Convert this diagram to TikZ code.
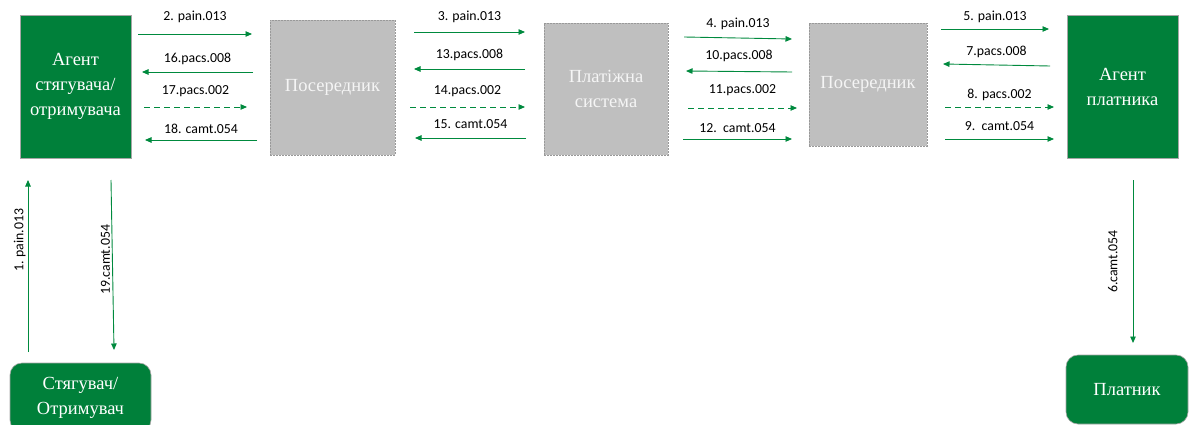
\documentclass[tikz,border=0pt]{standalone}
\usepackage{fontspec}
\setmainfont{Liberation Serif}
\newfontfamily\lblfont{Carlito}
\newfontfamily\boxfont{Liberation Serif}
\usetikzlibrary{arrows.meta}
\definecolor{grn}{RGB}{0,128,58}
\definecolor{arrg}{RGB}{0,138,62}
\definecolor{gbox}{RGB}{191,191,191}
\definecolor{gtext}{RGB}{245,245,245}
\begin{document}
\begin{tikzpicture}[x=1pt,y=-1pt,
  greenbox/.style={draw=gray!70, fill=grn, text=white, line width=0.6pt,
    font=\boxfont\fontsize{18.5}{25}\selectfont, align=center, inner sep=0pt},
  roundbox/.style={greenbox, rounded corners=12pt},
  greybox/.style={draw=gray!80, fill=gbox, text=gtext, line width=0.6pt,
    dash pattern=on 2pt off 1pt, font=\boxfont\fontsize{18.5}{25}\selectfont,
    align=center, inner sep=0pt},
  arr/.style={draw=arrg, line width=0.9pt, -{Triangle[length=6.5pt,width=5.5pt]}},
  dsh/.style={arr, dash pattern=on 6pt off 4pt},
  lbl/.style={font=\lblfont\fontsize{13.8}{16}\selectfont, text=black}]
\clip (0,0) rectangle (1190,425);
\fill[white] (0,0) rectangle (1190,425);

% boxes
\node[greenbox, minimum width=111pt, minimum height=143pt] (ag1) at (75.5,86.5) {Агент\\стягувача/\\отримувача};
\node[greybox, minimum width=125pt, minimum height=135pt] (p1) at (332.5,87.5) {Посередник};
\node[greybox, minimum width=124pt, minimum height=132pt] (ps) at (606,89) {Платіжна\\система};
\node[greybox, minimum width=118pt, minimum height=123pt] (p2) at (868,84.5) {Посередник};
\node[greenbox, minimum width=111pt, minimum height=143pt] (ag2) at (1122.5,86.5) {Агент\\платника};
\node[roundbox, minimum width=141pt, minimum height=69pt] (st) at (80.5,397.5) {Стягувач/\\Отримувач};
\node[roundbox, minimum width=122pt, minimum height=69pt] (pl) at (1127,389.5) {Платник};

% horizontal messages
\foreach \id/\st/\xa/\ya/\xb/\yb/\dy/\txt in {
  2/arr/138/34/252/34/17/{2. pain.013},
  16/arr/253/72/142/72/13/{16.pacs.008},
  17/dsh/144/107/247/107/16/{17.pacs.002},
  18/arr/257/140/145/140/11/{18. camt.054},
  3/arr/414/32/525/32/15/{3. pain.013},
  13/arr/525/69/414/69/14/{13.pacs.008},
  14/dsh/410/107/525/107/16/{14.pacs.002},
  15/arr/526/138/415/138/14/{15. camt.054},
  4/arr/684/37/792/39/14/{4. pain.013},
  10/arr/792/72/686/71/16/{10.pacs.008},
  11/dsh/688/108/797/108/18/{11.pacs.002},
  12/arr/683/139/792/139/11/{12.\ \ camt.054},
  5/arr/941/29/1049/29/12/{5. pain.013},
  7/arr/1050/66/943/64/13/{7.pacs.008},
  8/dsh/945/107/1054/107/12/{8. pacs.002},
  9/arr/945/139/1054/139/13/{9.\ \ camt.054}}
{
  \coordinate (s\id) at (\xa,\ya);
  \coordinate (e\id) at (\xb,\yb);
  \draw[\st] (s\id) -- node[lbl, yshift=\dy pt]{\txt} (e\id);
}

% vertical messages
\coordinate (s1) at (28,352);
\coordinate (e1) at (28,180);
\draw[arr] (s1) -- node[lbl, rotate=90, anchor=south, inner ysep=2pt, pos=0.65]{1. pain.013} (e1);
\coordinate (s19) at (111,180);
\coordinate (e19) at (114,350);
\draw[arr] (s19) -- node[lbl, rotate=90, anchor=south, inner ysep=2pt, pos=0.47]{19.camt.054} (e19);
\coordinate (s6) at (1133,180);
\coordinate (e6) at (1133,343);
\draw[arr] (s6) -- node[lbl, rotate=90, anchor=south, inner ysep=15pt, pos=0.5]{6.camt.054} (e6);
\end{tikzpicture}
\end{document}
